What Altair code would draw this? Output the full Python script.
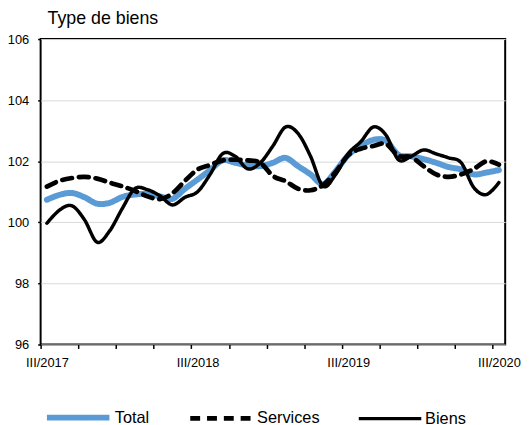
import altair as alt
import pandas as pd

# monthly series, July 2017 .. July 2020 (37 points)
total = [100.74, 100.90, 100.96, 100.82, 100.61, 100.64, 100.83, 100.91, 100.93, 100.85,
         100.77, 101.10, 101.40, 101.71, 102.03, 101.95, 101.86, 101.84, 101.95, 102.11,
         101.84, 101.57, 101.25, 101.68, 102.20, 102.50, 102.70, 102.67, 102.21, 102.16,
         102.07, 101.95, 101.81, 101.73, 101.57, 101.63, 101.71]
services = [101.17, 101.36, 101.45, 101.49, 101.43, 101.30, 101.18, 101.03, 100.85, 100.76,
            100.95, 101.36, 101.73, 101.88, 102.03, 102.05, 102.03, 101.95, 101.52, 101.35,
            101.10, 101.05, 101.22, 101.65, 102.20, 102.41, 102.50, 102.57, 102.18, 102.14,
            101.84, 101.57, 101.49, 101.57, 101.75, 102.00, 101.89]
biens = [99.97, 100.40, 100.54, 100.08, 99.35, 99.72, 100.45, 101.10, 101.07, 100.87,
         100.57, 100.82, 101.00, 101.57, 102.25, 102.16, 101.75, 101.95, 102.50, 103.12,
         102.91, 102.16, 101.18, 101.57, 102.25, 102.64, 103.12, 102.86, 102.05, 102.16,
         102.37, 102.24, 102.11, 101.95, 101.14, 100.91, 101.30]
series_names = ["Total", "Services", "Biens"]
tick_labels = {0.5: "III/2017", 12.5: "III/2018", 24.5: "III/2019", 36.5: "III/2020"}

rows = []
for name, vals in zip(series_names, [total, services, biens]):
    for i, v in enumerate(vals):
        rows.append({"m": i + 0.5, "v": v, "serie": name})
df = pd.DataFrame(rows)

FONT = "Liberation Sans"
tick_vals = sorted(set([float(k) for k in range(0, 37, 3)] + list(tick_labels.keys())))
label_expr = " : ".join(
    [f"datum.value == {k} ? '{t}'" for k, t in tick_labels.items()]) + " : ''"

leg = alt.Legend(title=None, orient="none", legendX=3, legendY=348, direction="horizontal",
                 symbolType="stroke", symbolSize=4000, labelFontSize=16.5, labelFont=FONT,
                 labelColor="black", columnPadding=31, labelOffset=2, padding=0)

chart = alt.Chart(df).mark_line(interpolate="cardinal", strokeCap="round", strokeJoin="round").encode(
    x=alt.X("m:Q", scale=alt.Scale(domain=[0, 37], nice=False, zero=False),
            axis=alt.Axis(title=None, values=tick_vals, labelExpr=label_expr, grid=False,
                          domain=False, tickColor="black", tickSize=4, tickWidth=1.5,
                          tickOpacity={"condition": {"test": "datum.value % 3 != 0", "value": 0}, "value": 1},
                          labelFont=FONT, labelFontSize=13, labelColor="black", labelPadding=8,
                          labelOverlap=False, labelFlush=False, labelBound=False)),
    y=alt.Y("v:Q", scale=alt.Scale(domain=[96, 106], nice=False, zero=False),
            axis=alt.Axis(title=None, values=[96, 98, 100, 102, 104, 106], grid=True,
                          gridColor="#d9d9d9", gridWidth=1, domain=False, tickColor="black",
                          tickSize=3, tickWidth=1.5, labelFont=FONT, labelFontSize=13,
                          labelColor="black", labelPadding=9)),
    color=alt.Color("serie:N", scale=alt.Scale(domain=series_names, range=["#5b9bd5", "black", "black"]),
                    legend=leg),
    strokeDash=alt.StrokeDash("serie:N", scale=alt.Scale(domain=series_names, range=[[1, 0], [10, 7], [1, 0]]),
                              legend=leg),
    strokeWidth=alt.StrokeWidth("serie:N", scale=alt.Scale(domain=series_names, range=[6, 3.5, 1.4]),
                                legend=leg),
    order=alt.Order("m:Q"),
).properties(
    width=470, height=309,
    title=alt.Title("Type de biens", anchor="start", frame="group", font=FONT, fontSize=18,
                    fontWeight="normal", color="black", dx=7, offset=5),
    autosize=alt.AutoSizeParams(type="none"),
    padding={"left": 33, "top": 29, "right": 16, "bottom": 80},
).configure_view(stroke="black", strokeWidth=2)

chart.save("out.html", embed_options={"renderer": "svg", "actions": False})
